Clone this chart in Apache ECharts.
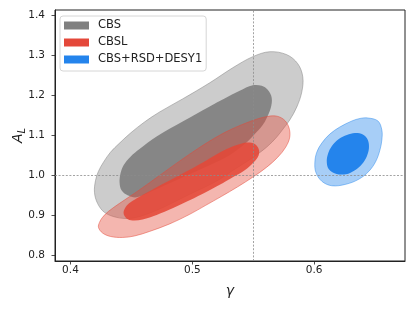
<!DOCTYPE html>
<html>
<head>
<meta charset="utf-8">
<script src="https://cdn.jsdelivr.net/npm/echarts@6/dist/echarts.min.js"></script>
<style>html,body{margin:0;padding:0;background:#fff;}#c{width:415px;height:312px;}</style>
</head>
<body>
<div id="c"></div>
<script>
// Tick values
var xTicks = [0.4, 0.5, 0.6];
var yTicks = [0.8, 0.9, 1.0, 1.1, 1.2, 1.3, 1.4];
var legendNames = ['CBS', 'CBSL', 'CBS+RSD+DESY1'];
var refGamma = 0.55;
var refAL = 1.0;

// Contours (gamma, A_L)
var cbsOuter = [[0.4206,0.9869],[0.4230,1.0095],[0.4271,1.0321],[0.4329,1.0572],[0.4403,1.0798],[0.4493,1.1049],[0.4608,1.1326],[0.4732,1.1577],[0.4921,1.1903],[0.5143,1.2305],[0.5332,1.2681],[0.5496,1.2958],[0.5636,1.3083],[0.5776,1.3008],[0.5866,1.2782],[0.5907,1.2455],[0.5899,1.2079],[0.5858,1.1702],[0.5800,1.1376],[0.5751,1.1175],[0.5693,1.0949],[0.5611,1.0698],[0.5513,1.0472],[0.5414,1.0271],[0.5323,1.0095],[0.5225,0.9894],[0.5118,0.9719],[0.4978,0.9518],[0.4830,0.9292],[0.4707,0.9116],[0.4584,0.8978],[0.4485,0.8915],[0.4378,0.8941],[0.4279,0.9066],[0.4222,0.9292],[0.4197,0.9568]];
var cbsInner = [[0.4403,0.9819],[0.4411,1.0045],[0.4436,1.0246],[0.4493,1.0459],[0.4567,1.0648],[0.4707,1.0962],[0.4921,1.1338],[0.5143,1.1715],[0.5389,1.2104],[0.5496,1.2242],[0.5570,1.2229],[0.5619,1.2129],[0.5652,1.1928],[0.5644,1.1677],[0.5611,1.1426],[0.5578,1.1250],[0.5513,1.1024],[0.5430,1.0773],[0.5307,1.0497],[0.5143,1.0246],[0.4978,1.0020],[0.4814,0.9794],[0.4649,0.9568],[0.4543,0.9443],[0.4469,0.9493],[0.4419,0.9618]];
var cbslOuter = [[0.4238,0.8815],[0.4263,0.8941],[0.4312,0.9091],[0.4403,0.9292],[0.4526,0.9543],[0.4649,0.9807],[0.4814,1.0171],[0.4978,1.0522],[0.5143,1.0849],[0.5307,1.1125],[0.5496,1.1363],[0.5595,1.1451],[0.5685,1.1476],[0.5751,1.1388],[0.5792,1.1200],[0.5800,1.0949],[0.5767,1.0698],[0.5702,1.0447],[0.5611,1.0196],[0.5496,0.9945],[0.5373,0.9706],[0.5241,0.9468],[0.5110,0.9242],[0.4978,0.9016],[0.4814,0.8777],[0.4649,0.8589],[0.4526,0.8476],[0.4427,0.8438],[0.4329,0.8463],[0.4263,0.8551],[0.4230,0.8689]];
var cbslInner = [[0.4436,0.9041],[0.4452,0.9192],[0.4493,0.9317],[0.4567,0.9455],[0.4707,0.9694],[0.4855,0.9932],[0.4978,1.0133],[0.5118,1.0372],[0.5249,1.0598],[0.5365,1.0748],[0.5447,1.0811],[0.5513,1.0773],[0.5545,1.0648],[0.5545,1.0497],[0.5504,1.0321],[0.5430,1.0121],[0.5332,0.9945],[0.5225,0.9756],[0.5118,0.9581],[0.4978,0.9367],[0.4838,0.9166],[0.4707,0.9003],[0.4592,0.8890],[0.4510,0.8865],[0.4460,0.8915]];
var jointOuter = [[0.6441,1.1426],[0.6524,1.1351],[0.6556,1.1125],[0.6556,1.0874],[0.6540,1.0623],[0.6507,1.0346],[0.6450,1.0095],[0.6367,0.9895],[0.6261,0.9769],[0.6146,0.9731],[0.6063,0.9844],[0.6014,1.0070],[0.6006,1.0321],[0.6022,1.0572],[0.6063,1.0798],[0.6129,1.1024],[0.6211,1.1200],[0.6310,1.1351],[0.6376,1.1414]];
var jointInner = [[0.6335,1.1049],[0.6400,1.1012],[0.6441,1.0874],[0.6450,1.0673],[0.6433,1.0472],[0.6392,1.0271],[0.6335,1.0121],[0.6261,1.0020],[0.6178,1.0033],[0.6121,1.0146],[0.6104,1.0321],[0.6113,1.0522],[0.6146,1.0723],[0.6203,1.0899],[0.6269,1.0999]];

var FONT = 'DejaVu Sans';
var chart = echarts.init(document.getElementById('c'), null, {renderer: 'canvas'});

function contourSeries(name, outer, inner, rgb, innerAlpha, legendColor, outerStroke) {
  var sets = [outer, inner];
  return {
    type: 'custom',
    name: name,
    coordinateSystem: 'cartesian2d',
    clip: true,
    silent: true,
    itemStyle: {color: legendColor},
    data: sets.map(function (s) { return s[0]; }),
    renderItem: function (params, api) {
      var pts = sets[params.dataIndex].map(function (p) { return api.coord(p); });
      var isOuter = params.dataIndex === 0;
      return {
        type: 'polygon',
        shape: {points: pts, smooth: 0.35},
        style: isOuter ? {
          fill: 'rgba(' + rgb + ',0.4)',
          stroke: outerStroke,
          lineWidth: 0.9
        } : {
          fill: 'rgba(' + rgb + ',' + innerAlpha + ')',
          stroke: null
        }
      };
    }
  };
}

var option = {
  animation: false,
  backgroundColor: '#fff',
  grid: {left: 55, right: 10, top: 10, bottom: 51, containLabel: false, outerBoundsMode: 'none', show: true, borderColor: '#222', borderWidth: 1, backgroundColor: 'transparent'},
  legend: {
    left: 60, top: 16, orient: 'vertical', icon: 'rect',
    itemWidth: 25, itemHeight: 8, itemGap: 4,
    padding: [3, 4, 5, 4],
    borderColor: '#d6d6d6', borderWidth: 1, borderRadius: 3,
    backgroundColor: 'rgba(255,255,255,0.8)',
    textStyle: {fontFamily: FONT, fontSize: 11.5, color: '#222', lineHeight: 13, padding: [0, 0, 0, 4]},
    data: [
      {name: legendNames[0], itemStyle: {color: '#808080'}},
      {name: legendNames[1], itemStyle: {color: '#e4483a'}},
      {name: legendNames[2], itemStyle: {color: '#2484ec'}}
    ]
  },
  xAxis: {
    type: 'value', min: 0.3873, max: 0.6746,
    name: 'γ', nameLocation: 'middle', nameGap: 23, nameMoveOverlap: false,
    nameTextStyle: {fontFamily: FONT, fontSize: 14, fontStyle: 'italic', color: '#222'},
    axisLine: {show: true, lineStyle: {color: '#222', width: 1}},
    axisTick: {show: true, inside: false, length: 3.5, customValues: xTicks, lineStyle: {color: '#222', width: 0.8}},
    axisLabel: {customValues: xTicks, formatter: function (v) { return v.toFixed(1); }, fontFamily: FONT, fontSize: 10.5, color: '#222', margin: 4},
    splitLine: {show: false}
  },
  yAxis: {
    type: 'value', min: 0.785, max: 1.4126,
    name: '{a|A}{s|L}', nameLocation: 'middle', nameGap: 28, nameMoveOverlap: false,
    nameTextStyle: {
      color: '#222',
      rich: {
        a: {fontFamily: FONT, fontSize: 14, fontStyle: 'italic', color: '#222', lineHeight: 16, verticalAlign: 'top'},
        s: {fontFamily: FONT, fontSize: 10, fontStyle: 'italic', color: '#222', lineHeight: 10, padding: [8, 0, 0, 0], verticalAlign: 'bottom'}
      }
    },
    axisLine: {show: true, lineStyle: {color: '#222', width: 1}},
    axisTick: {show: true, inside: false, length: 3.5, customValues: yTicks, lineStyle: {color: '#222', width: 0.8}},
    axisLabel: {customValues: yTicks, formatter: function (v) { return v.toFixed(1); }, fontFamily: FONT, fontSize: 10.5, color: '#222', margin: 10},
    splitLine: {show: false}
  },
  series: [
    contourSeries(legendNames[0], cbsOuter, cbsInner, '128,128,128', 0.92, '#808080', 'rgba(128,128,128,0.55)'),
    contourSeries(legendNames[1], cbslOuter, cbslInner, '228,72,56', 0.88, '#e4483a', 'rgba(228,72,56,0.55)'),
    contourSeries(legendNames[2], jointOuter, jointInner, '36,132,236', 1, '#2484ec', 'rgba(36,132,236,0.5)'),
    {
      type: 'line', name: 'ref', data: [], silent: true, z: 10,
      markLine: {
        silent: true, symbol: 'none', animation: false,
        label: {show: false},
        lineStyle: {color: '#8c8c8c', width: 0.8, type: [2, 1.6]},
        data: [{xAxis: refGamma}, {yAxis: refAL}]
      }
    }
  ]
};
chart.setOption(option);
</script>
</body>
</html>
